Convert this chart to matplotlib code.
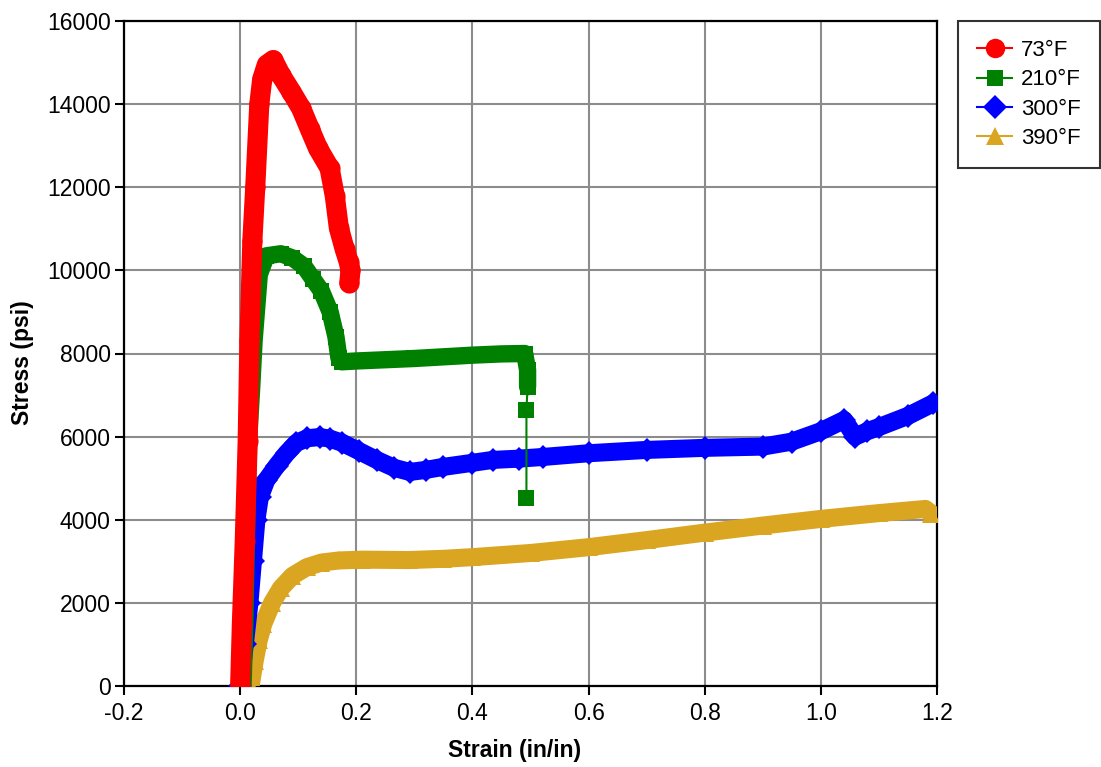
import matplotlib
matplotlib.use("Agg")
import matplotlib.pyplot as plt
from matplotlib.lines import Line2D

plt.rcParams['font.family'] = ['Liberation Sans', 'DejaVu Sans']

# ---- data ----
red_x = [0.000, 0.003, 0.008, 0.013, 0.016, 0.021, 0.026, 0.033, 0.038, 0.046, 0.057,
         0.070, 0.088, 0.105, 0.120, 0.134, 0.154, 0.163, 0.170, 0.180, 0.187, 0.190, 0.188]
red_y = [0, 1500, 3500, 5900, 8300, 10700, 12000, 14000, 14600, 14950, 15060,
         14700, 14300, 13900, 13400, 12940, 12460, 11790, 11020, 10510, 10200, 10000, 9700]

green_x = [0.005, 0.008, 0.010, 0.012, 0.015, 0.020, 0.024, 0.033, 0.045, 0.070,
           0.090, 0.110, 0.125, 0.140, 0.155, 0.165, 0.170, 0.175, 0.200, 0.250, 0.300,
           0.350, 0.400, 0.450, 0.490, 0.495, 0.495, 0.493, 0.493]
green_y = [0, 1500, 3000, 4500, 6000, 7200, 8300, 9900, 10350, 10400,
           10300, 10100, 9800, 9500, 9000, 8400, 7900, 7800, 7820, 7850, 7880,
           7920, 7960, 7990, 8000, 7600, 7200, 6650, 4520]

blue_x = [0.000, 0.008, 0.016, 0.022, 0.028, 0.034, 0.045, 0.063, 0.080, 0.097, 0.115,
          0.137, 0.155, 0.176, 0.205, 0.235, 0.265, 0.292, 0.320, 0.349, 0.400, 0.435,
          0.480, 0.521, 0.600, 0.700, 0.800, 0.900, 0.950, 1.000, 1.040, 1.059, 1.080,
          1.100, 1.150, 1.193]
blue_y = [0, 1000, 2000, 3000, 4000, 4550, 4950, 5300, 5600, 5850, 5960,
          5990, 5950, 5850, 5650, 5440, 5250, 5150, 5200, 5270, 5370, 5440,
          5470, 5510, 5600, 5680, 5730, 5760, 5880, 6130, 6400, 6000, 6130,
          6230, 6500, 6800]

gold_x = [0.018, 0.025, 0.032, 0.040, 0.055, 0.070, 0.090, 0.115, 0.140, 0.170, 0.210,
          0.290, 0.350, 0.400, 0.500, 0.600, 0.700, 0.800, 0.900, 1.000, 1.100, 1.180, 1.190]
gold_y = [0, 600, 1100, 1500, 2000, 2350, 2650, 2860, 2970, 3020, 3040,
          3030, 3060, 3100, 3200, 3340, 3510, 3690, 3860, 4020, 4160, 4260, 4150]

labels = ['73°F', '210°F', '300°F', '390°F']
colors = ['#ff0000', '#008000', '#0000ff', '#daa520']
markers = ['o', 's', 'D', '^']

x_ticks = [-0.2, 0.0, 0.2, 0.4, 0.6, 0.8, 1.0, 1.2]
x_ticklabels = ['-0.2', '0.0', '0.2', '0.4', '0.6', '0.8', '1.0', '1.2']
y_ticks = [0, 2000, 4000, 6000, 8000, 10000, 12000, 14000, 16000]

fig = plt.figure(figsize=(11.01, 7.67), dpi=100)
ax = fig.add_axes([124 / 1101, 81 / 767, (937 - 124) / 1101, (686 - 21) / 767])

# draw order: gold, blue, green, red (red on top)
series = [
    (gold_x, gold_y, 3, 13, 13, len(gold_x)),
    (blue_x, blue_y, 2, 13, 12, len(blue_x)),
    (green_x, green_y, 1, 12.5, 12, len(green_x) - 2),
    (red_x, red_y, 0, 14.5, 14.5, len(red_x)),
]
for xs, ys, i, lw_band, ms, nband in series:
    ax.plot(xs[:nband], ys[:nband], color=colors[i], lw=lw_band,
            solid_joinstyle='round', solid_capstyle='round', zorder=3 + (3 - i))
    ax.plot(xs, ys, color=colors[i], lw=1.5, marker=markers[i], ms=ms,
            markeredgewidth=0, zorder=3 + (3 - i))

ax.set_xlim(-0.2, 1.2)
ax.set_ylim(0, 16000)
ax.set_xticks(x_ticks)
ax.set_xticklabels(x_ticklabels)
ax.set_yticks(y_ticks)
ax.tick_params(axis='both', direction='out', length=6.5, width=1.5, labelsize=16.5)
ax.tick_params(axis='x', pad=5)
ax.tick_params(axis='y', pad=3)
ax.grid(True, color='#8c8c8c', lw=1.5, zorder=0)
ax.set_axisbelow(True)
for s in ax.spines.values():
    s.set_linewidth(1.6)
    s.set_color('black')

ax.set_xlabel('Strain (in/in)', fontsize=16.5, fontweight='bold')
ax.set_ylabel('Stress (psi)', fontsize=16.5, fontweight='bold')
ax.xaxis.set_label_coords((515 - 124) / 813, -0.08)
ax.yaxis.set_label_coords((34 - 124) / 813, 0.4865)

handles = [Line2D([], [], color=colors[i], lw=1.5, marker=markers[i],
                  ms=[14, 12, 12, 13][i], markeredgewidth=0) for i in range(4)]
leg = fig.legend(handles, labels, loc='upper left',
                 bbox_to_anchor=(958 / 1101, 1 - 21 / 767), borderaxespad=0,
                 fontsize=16, frameon=True, fancybox=False, edgecolor='black',
                 handlelength=1.6, borderpad=0.85,
                 labelspacing=0.38, handletextpad=0.4)
leg.get_frame().set_linewidth(1.5)

fig.savefig('out.png', dpi=100)
